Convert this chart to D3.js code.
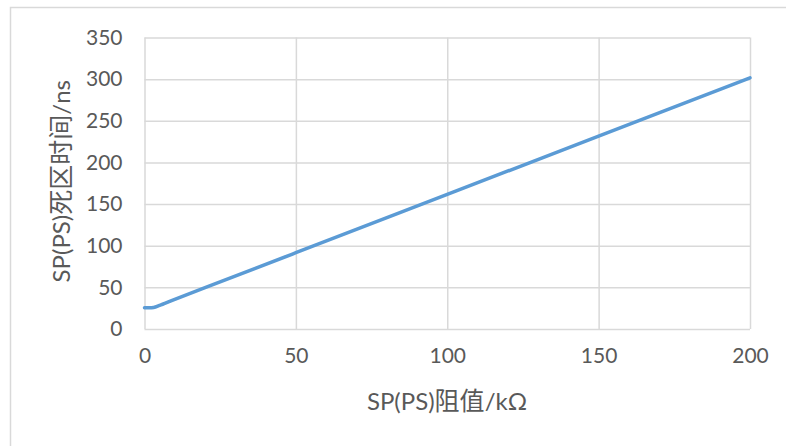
<!DOCTYPE html>
<html><head><meta charset="utf-8">
<script src="https://cdn.jsdelivr.net/npm/d3@7"></script>
<style>body{margin:0;background:#fff}svg{display:block}</style>
</head><body>
<svg id="c" width="786" height="446"></svg>
<script>
const xValues = [0, 3, 5, 10, 20, 50, 100, 150, 200];
const deadTime = [25.5, 25.8, 28.3, 35.6, 49.6, 91.6, 161.6, 231.6, 301.6];
const xTicks = [0, 50, 100, 150, 200];
const yTicks = [0, 50, 100, 150, 200, 250, 300, 350];
const xTitle = [["SP(PS)", 0], ["阻值", 1], ["/kΩ", 0]];
const yTitle = [["SP(PS)", 0], ["死区时间", 1], ["/ns", 0]];

const svg = d3.select("#c");
const font = "Lato, 'Noto Sans', 'Noto Sans CJK SC', sans-serif";
const cjkFont = "'Noto Sans CJK SC', sans-serif";
const L = 144.5, R = 750, T = 37.5, B = 329;
const x = d3.scaleLinear().domain([0, 200]).range([L, R]);
const y = d3.scaleLinear().domain([0, 350]).range([B, T]);

svg.append("rect").attr("x", 10.5).attr("y", 7.5).attr("width", 800).attr("height", 500)
  .attr("fill", "none").attr("stroke", "#d9d9d9").attr("stroke-width", 1.5);

const gy = svg.append("g").attr("transform", `translate(${L},0)`)
  .call(d3.axisLeft(y).tickValues(yTicks).tickSize(-(R - L)).tickPadding(22));
const gx = svg.append("g").attr("transform", `translate(0,${B})`)
  .call(d3.axisBottom(x).tickValues(xTicks).tickSize(-(B - T)).tickPadding(19));
[gy, gx].forEach(g => {
  g.attr("font-size", null).attr("font-family", null);
  g.select(".domain").remove();
  g.selectAll("line").attr("stroke", "#d9d9d9").attr("stroke-width", 1.5);
  g.selectAll("text").attr("fill", "#595959").attr("font-family", font).attr("font-size", 21);
});

svg.append("path").datum(xValues.map((v, i) => [v, deadTime[i]]))
  .attr("fill", "none").attr("stroke", "#5b9bd5").attr("stroke-width", 3.5).attr("stroke-linecap", "round")
  .attr("d", d3.line().x(d => x(d[0])).y(d => y(d[1])).curve(d3.curveCatmullRom));

function title(t, parts) {
  t.attr("fill", "#595959").attr("text-anchor", "middle").attr("font-family", font).attr("font-size", 24);
  parts.forEach(([s, cjk]) => {
    const ts = t.append("tspan").text(s);
    if (cjk) ts.attr("font-family", cjkFont).attr("font-size", 25);
  });
}
title(svg.append("text").attr("x", 447).attr("y", 410), xTitle);
title(svg.append("text").attr("transform", `translate(70,${(T + B) / 2 - 2}) rotate(-90)`), yTitle);
</script>
</body></html>
